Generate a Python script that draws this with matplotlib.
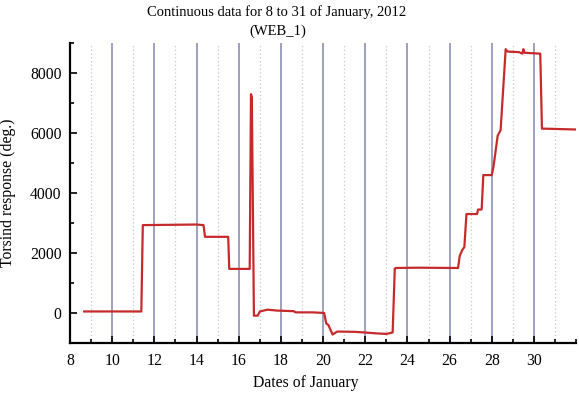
import matplotlib
matplotlib.use("Agg")
import matplotlib.pyplot as plt
from matplotlib.ticker import MultipleLocator

plt.rcParams['font.family'] = ['Liberation Serif', 'DejaVu Serif']

# torsion response (day of January, degrees)
days = [8.67, 11.38, 11.45, 14.0, 14.33, 14.4, 15.5, 15.55, 16.52, 16.58,
        16.62, 16.72, 16.9, 17.0, 17.37, 17.8, 18.6, 18.7, 19.5, 20.05,
        20.15, 20.25, 20.45, 20.67, 21.5, 21.95, 22.5, 23.0, 23.3, 23.4,
        23.45, 24.5, 26.4, 26.48, 26.6, 26.7, 26.8, 27.3, 27.35, 27.52,
        27.6, 28.0, 28.08, 28.28, 28.42, 28.66, 28.75, 29.3, 29.45, 29.5,
        29.55, 30.3, 30.38, 31.98]
resp = [50, 50, 2930, 2950, 2930, 2540, 2540, 1470, 1470, 7300,
        7200, -90, -90, 50, 110, 80, 60, 20, 20, 0,
        -350, -400, -720, -620, -630, -650, -680, -700, -650, 1480,
        1500, 1510, 1500, 1900, 2100, 2200, 3300, 3300, 3450, 3450,
        4600, 4600, 4870, 5910, 6100, 8800, 8720, 8700, 8650, 8800,
        8680, 8650, 6150, 6120]

major_days = list(range(10, 31, 2))
minor_days = list(range(9, 32, 2))

fig = plt.figure(figsize=(5.79, 3.96), dpi=100)
ax = fig.add_axes([0.121, 0.134, 0.874, 0.757])

# vertical grid: solid at even days, dotted at odd days
for d in major_days:
    ax.axvline(d, color='#8585ad', lw=1.1, zorder=1)
for d in minor_days:
    ax.axvline(d, color='#c8ccc0', lw=0.9, ls=(0, (1, 2)), zorder=1)

ax.plot(days, resp, color='#c62a2a', lw=1.6, zorder=3)

ax.set_xlim(8, 32)
ax.set_ylim(-1000, 9000)
ax.set_xticks(list(range(8, 31, 2)))
ax.xaxis.set_minor_locator(MultipleLocator(1))
ax.set_yticks([0, 2000, 4000, 6000, 8000])
ax.yaxis.set_minor_locator(MultipleLocator(1000))
ax.tick_params(which='both', direction='in', labelsize=11.3, width=1.2)
ax.tick_params(which='major', length=5)
ax.tick_params(which='minor', length=3)
ax.tick_params(axis='x', which='major', pad=7)
ax.tick_params(axis='y', which='major', pad=6)

for s in ['top', 'right']:
    ax.spines[s].set_visible(False)
for s in ['left', 'bottom']:
    ax.spines[s].set_linewidth(1.6)

ax.set_xlabel('Dates of January', fontsize=11.3)
ax.xaxis.set_label_coords(0.465, -0.107)
ax.set_ylabel('Torsind response (deg.)', fontsize=11.3)
ax.yaxis.set_label_coords(-0.106, 0.5)

fig.text(0.477, 1 - 12 / 396, 'Continuous data for 8 to 31 of January, 2012',
         fontsize=10.5, ha='center', va='center')
fig.text(0.480, 1 - 31 / 396, '(WEB_1)', fontsize=10.5, ha='center', va='center')

fig.savefig('out.png', dpi=100)
